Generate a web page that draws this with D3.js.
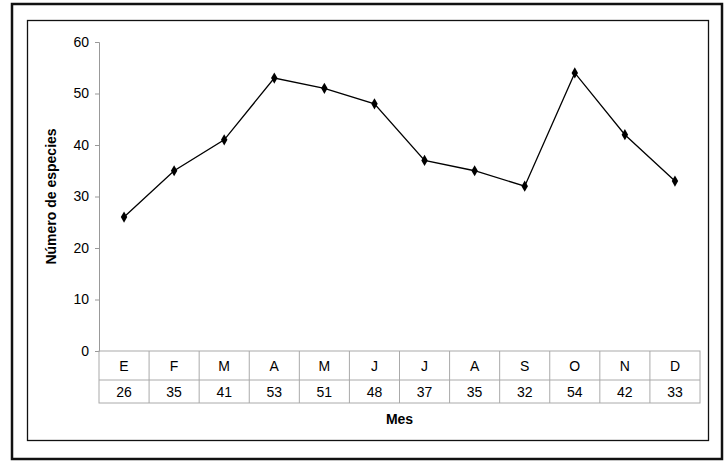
<!DOCTYPE html>
<html><head><meta charset="utf-8">
<script src="https://cdn.jsdelivr.net/npm/d3@7"></script>
<style>body{margin:0;background:#fff}</style>
</head><body><div id="chart"></div>
<script>
const months = ["E","F","M","A","M","J","J","A","S","O","N","D"]
const species = [26,35,41,53,51,48,37,35,32,54,42,33]
const yTicks = [0,10,20,30,40,50,60]

const W = 728, H = 465
const plotL = 99, plotR = 700, plotT = 42, plotB = 351
const row1 = 380, row2 = 403

const svg = d3.select("#chart").append("svg").attr("width", W).attr("height", H)
  .style("font-family", "Arial, 'Liberation Sans', sans-serif")

svg.append("rect").attr("x", 12).attr("y", 4).attr("width", 710).attr("height", 455)
  .attr("fill", "none").attr("stroke", "#111").attr("stroke-width", 2.5)
svg.append("rect").attr("x", 27.5).attr("y", 20.5).attr("width", 681).attr("height", 420)
  .attr("fill", "none").attr("stroke", "#111").attr("stroke-width", 1.3)

const x = d3.scaleBand().domain(d3.range(months.length)).range([plotL, plotR])
const y = d3.scaleLinear().domain([0, 60]).range([plotB, plotT])

// y axis
const ya = svg.append("g").attr("transform", `translate(${plotL},0)`)
  .call(d3.axisLeft(y).tickValues(yTicks).tickSize(4).tickPadding(6))
ya.select(".domain").attr("stroke", "#999")
ya.selectAll(".tick line").attr("stroke", "#999")
ya.selectAll("text").attr("font-size", 14).attr("fill", "#000")

svg.append("text").attr("transform", `translate(56,${(plotT + plotB) / 2}) rotate(-90)`)
  .attr("text-anchor", "middle").attr("font-size", 14).attr("font-weight", "bold")
  .text("Número de especies")

// data table
const grid = svg.append("g").attr("stroke", "#aaa").attr("fill", "none")
grid.append("rect").attr("x", plotL).attr("y", plotB).attr("width", plotR - plotL).attr("height", row2 - plotB)
grid.append("line").attr("x1", plotL).attr("x2", plotR).attr("y1", row1).attr("y2", row1)
d3.range(1, months.length).forEach(i => {
  grid.append("line").attr("x1", x(i)).attr("x2", x(i)).attr("y1", plotB).attr("y2", row2)
})
months.forEach((m, i) => {
  const cx = x(i) + x.bandwidth() / 2
  svg.append("text").attr("x", cx).attr("y", (plotB + row1) / 2 + 5).attr("text-anchor", "middle")
    .attr("font-size", 14).text(m)
  svg.append("text").attr("x", cx).attr("y", (row1 + row2) / 2 + 5).attr("text-anchor", "middle")
    .attr("font-size", 14).text(species[i])
})
svg.append("text").attr("x", (plotL + plotR) / 2).attr("y", 424).attr("text-anchor", "middle")
  .attr("font-size", 14).attr("font-weight", "bold").text("Mes")

// line
const line = d3.line().x((d, i) => x(i) + x.bandwidth() / 2).y(d => y(d))
svg.append("path").datum(species).attr("d", line).attr("fill", "none").attr("stroke", "#000").attr("stroke-width", 1.3)
svg.selectAll(".pt").data(species).join("path").attr("class", "pt")
  .attr("d", d3.symbol(d3.symbolDiamond, 36))
  .attr("transform", (d, i) => `translate(${x(i) + x.bandwidth() / 2},${y(d)})`)
  .attr("fill", "#000")
</script></body></html>
